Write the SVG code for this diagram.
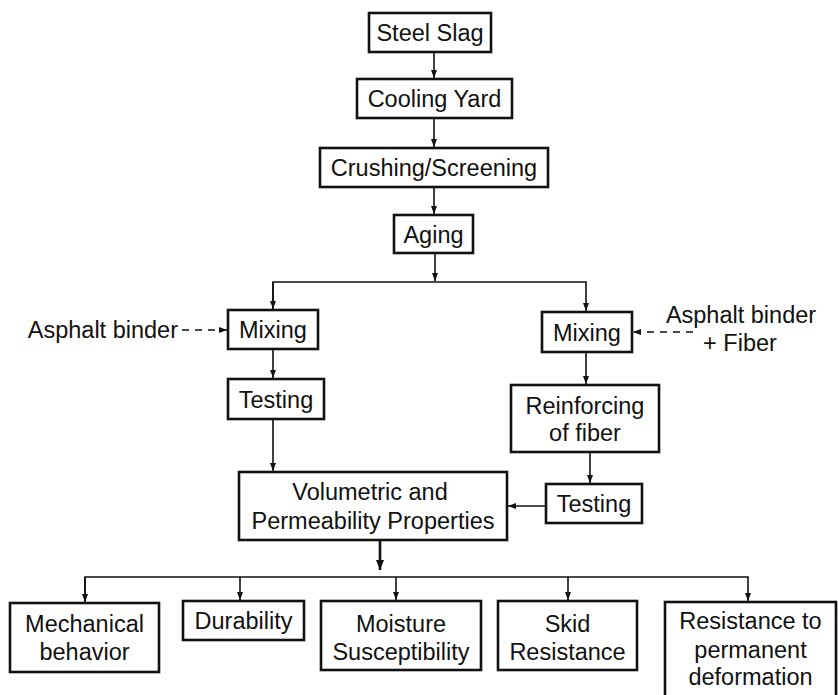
<svg xmlns="http://www.w3.org/2000/svg" width="838" height="695" viewBox="0 0 838 695">
  <style>
    .box { fill: #ffffff; stroke: #111111; stroke-width: 2.6; }
    .lbl { font-family: "Liberation Sans", Arial, sans-serif; font-size: 23.5px; fill: #111111; text-anchor: middle; }
    .free { font-family: "Liberation Sans", Arial, sans-serif; font-size: 23.5px; fill: #111111; }
    .wire { fill: none; stroke: #111111; stroke-width: 1.6; }
    .dash { fill: none; stroke: #111111; stroke-width: 1.6; stroke-dasharray: 7 6; }
    .thick { fill: none; stroke: #111111; stroke-width: 2.6; }
  </style>
  <defs>
    <marker id="arrow" viewBox="0 0 8 6" refX="8" refY="3" markerWidth="8" markerHeight="6" markerUnits="userSpaceOnUse" orient="auto">
      <path d="M0,0 L8,3 L0,6 z" fill="#111111"/>
    </marker>
    <marker id="arrowBig" viewBox="0 0 10 8" refX="10" refY="4" markerWidth="10" markerHeight="8" markerUnits="userSpaceOnUse" orient="auto">
      <path d="M0,0 L10,4 L0,8 z" fill="#111111"/>
    </marker>
  </defs>
  <rect width="838" height="695" fill="#ffffff"/>

  <!-- connectors -->
  <g id="connectors">
    <line class="wire" x1="434" y1="52" x2="434" y2="78" marker-end="url(#arrow)"/>
    <line class="wire" x1="434" y1="118" x2="434" y2="147" marker-end="url(#arrow)"/>
    <line class="wire" x1="434" y1="187" x2="434" y2="214" marker-end="url(#arrow)"/>
    <line class="wire" x1="435" y1="253" x2="435" y2="281" marker-end="url(#arrow)"/>
    <polyline class="wire" points="273,309 273,282 586,282 586,311" marker-end="url(#arrow)"/>
    <line class="wire" x1="273" y1="282" x2="273" y2="309" marker-end="url(#arrow)"/>
    <line class="dash" x1="182" y1="330" x2="227" y2="330" marker-end="url(#arrow)"/>
    <line class="dash" x1="693" y1="332" x2="633" y2="332" marker-end="url(#arrow)"/>
    <line class="wire" x1="273" y1="349" x2="273" y2="378" marker-end="url(#arrow)"/>
    <line class="wire" x1="586" y1="352" x2="586" y2="384" marker-end="url(#arrow)"/>
    <line class="wire" x1="273" y1="419" x2="273" y2="471" marker-end="url(#arrow)"/>
    <line class="wire" x1="590" y1="452" x2="590" y2="483" marker-end="url(#arrow)"/>
    <line class="wire" x1="546" y1="506" x2="508" y2="506" marker-end="url(#arrow)"/>
    <line class="thick" x1="380" y1="541" x2="380" y2="570" marker-end="url(#arrowBig)"/>
    <polyline class="wire" points="85,602 85,577 748,577 748,601" marker-end="url(#arrow)"/>
    <line class="wire" x1="85" y1="577" x2="85" y2="602" marker-end="url(#arrow)"/>
    <line class="wire" x1="240" y1="577" x2="240" y2="600" marker-end="url(#arrow)"/>
    <line class="wire" x1="396" y1="577" x2="396" y2="600" marker-end="url(#arrow)"/>
    <line class="wire" x1="568" y1="577" x2="568" y2="600" marker-end="url(#arrow)"/>
  </g>

  <!-- process chain -->
  <g id="steel-slag">
    <rect class="box" x="369" y="13" width="122" height="39"/>
    <text class="lbl" x="430" y="40.5">Steel Slag</text>
  </g>
  <g id="cooling-yard">
    <rect class="box" x="357" y="79" width="155" height="39"/>
    <text class="lbl" x="434.5" y="106.5">Cooling Yard</text>
  </g>
  <g id="crushing-screening">
    <rect class="box" x="320" y="148" width="228" height="39"/>
    <text class="lbl" x="434" y="176">Crushing/Screening</text>
  </g>
  <g id="aging">
    <rect class="box" x="394" y="215" width="79" height="38"/>
    <text class="lbl" x="433.5" y="242.5">Aging</text>
  </g>

  <!-- left branch -->
  <g id="binder-left">
    <text class="free" x="178" y="338" text-anchor="end">Asphalt binder</text>
  </g>
  <g id="mixing-left">
    <rect class="box" x="228" y="310" width="90" height="39"/>
    <text class="lbl" x="273" y="338">Mixing</text>
  </g>
  <g id="testing-left">
    <rect class="box" x="228" y="379" width="96" height="40"/>
    <text class="lbl" x="276" y="407.5">Testing</text>
  </g>

  <!-- right branch -->
  <g id="binder-fiber">
    <text class="lbl" x="741" y="323">Asphalt binder</text>
    <text class="lbl" x="740" y="351">+ Fiber</text>
  </g>
  <g id="mixing-right">
    <rect class="box" x="542" y="312" width="90" height="40"/>
    <text class="lbl" x="587" y="340.5">Mixing</text>
  </g>
  <g id="reinforcing">
    <rect class="box" x="511" y="385" width="148" height="67"/>
    <text class="lbl" x="585" y="413.5">Reinforcing</text>
    <text class="lbl" x="585" y="440.5">of fiber</text>
  </g>
  <g id="testing-right">
    <rect class="box" x="546" y="484" width="96" height="39"/>
    <text class="lbl" x="594" y="512">Testing</text>
  </g>

  <!-- merged properties -->
  <g id="volumetric">
    <rect class="box" x="239" y="472" width="268" height="68"/>
    <text class="lbl" x="370" y="500">Volumetric and</text>
    <text class="lbl" x="373" y="528.5">Permeability Properties</text>
  </g>

  <!-- outcomes -->
  <g id="mechanical">
    <rect class="box" x="10" y="603" width="149" height="69"/>
    <text class="lbl" x="84.5" y="632">Mechanical</text>
    <text class="lbl" x="84.5" y="660">behavior</text>
  </g>
  <g id="durability">
    <rect class="box" x="183" y="601" width="121" height="39"/>
    <text class="lbl" x="243.5" y="628.5">Durability</text>
  </g>
  <g id="moisture">
    <rect class="box" x="321" y="601" width="160" height="69"/>
    <text class="lbl" x="401" y="632">Moisture</text>
    <text class="lbl" x="401" y="660">Susceptibility</text>
  </g>
  <g id="skid">
    <rect class="box" x="498" y="601" width="139" height="69"/>
    <text class="lbl" x="567.5" y="632">Skid</text>
    <text class="lbl" x="567.5" y="660">Resistance</text>
  </g>
  <g id="rutting">
    <rect class="box" x="665" y="602" width="171" height="100"/>
    <text class="lbl" x="750.5" y="629">Resistance to</text>
    <text class="lbl" x="750.5" y="658">permanent</text>
    <text class="lbl" x="750.5" y="685">deformation</text>
  </g>
</svg>
